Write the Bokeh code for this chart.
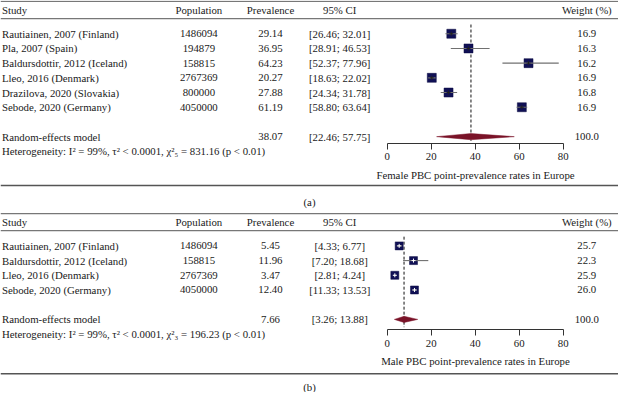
from bokeh.plotting import figure
from bokeh.models import Range1d, LinearAxis, FixedTicker
from bokeh.core.properties import value
from bokeh.embed import file_html
from bokeh.resources import INLINE

# ---------------- data ----------------
headers = ["Study", "Population", "Prevalence", "95% CI", "Weight (%)"]

studies_a = ["Rautiainen, 2007 (Finland)", "Pla, 2007 (Spain)", "Baldursdottir, 2012 (Iceland)",
             "Lleo, 2016 (Denmark)", "Drazilova, 2020 (Slovakia)", "Sebode, 2020 (Germany)"]
pop_a = [1486094, 194879, 158815, 2767369, 800000, 4050000]
prev_a = [29.14, 36.95, 64.23, 20.27, 27.88, 61.19]
lo_a = [26.46, 28.91, 52.37, 18.63, 24.34, 58.80]
hi_a = [32.01, 46.53, 77.96, 22.02, 31.78, 63.64]
w_a = [16.9, 16.3, 16.2, 16.9, 16.8, 16.9]
re_a = [38.07, 22.46, 57.75]
het_a = "Heterogeneity: I\u00b2 = 99%, \u03c4\u00b2 < 0.0001, \u03c7\u00b2\u2085 = 831.16 (p < 0.01)"
xlabel_a = "Female PBC point-prevalence rates in Europe"

studies_b = ["Rautiainen, 2007 (Finland)", "Baldursdottir, 2012 (Iceland)",
             "Lleo, 2016 (Denmark)", "Sebode, 2020 (Germany)"]
pop_b = [1486094, 158815, 2767369, 4050000]
prev_b = [5.45, 11.96, 3.47, 12.40]
lo_b = [4.33, 7.20, 2.81, 11.33]
hi_b = [6.77, 18.68, 4.24, 13.53]
w_b = [25.7, 22.3, 25.9, 26.0]
re_b = [7.66, 3.26, 13.88]
het_b = "Heterogeneity: I\u00b2 = 99%, \u03c4\u00b2 < 0.0001, \u03c7\u00b2\u2083 = 196.23 (p < 0.01)"
xlabel_b = "Male PBC point-prevalence rates in Europe"

ticks_x = [0, 20, 40, 60, 80]
model_label = "Random-effects model"

# ---------------- layout ----------------
W, H = 618, 392
REF_W, REF_H = 634.0, 408.0
X0_REF = 396.7           # reference x of value 0
K = 2.2575               # reference px per unit


def dx(ref_x):
    return (ref_x - X0_REF) / K


XMIN, XMAX = dx(0), dx(REF_W)

FONT = value("Liberation Serif")
FS = "10.8px"
TXT = "#1a1a1a"

p = figure(width=W, height=H, output_backend="svg", toolbar_location=None,
           x_range=Range1d(XMIN, XMAX), y_range=Range1d(REF_H, 0),
           x_axis_location=None, y_axis_location=None,
           min_border=0, min_border_left=0, min_border_right=0,
           min_border_top=0, min_border_bottom=0)
p.outline_line_color = None
p.xgrid.visible = False
p.ygrid.visible = False
p.background_fill_color = "white"
p.border_fill_color = "white"

COL_STUDY = dx(1.5)
COL_POP = dx(203.5)
COL_PREV = dx(277)
COL_CI = dx(348)
COL_W = dx(601.5)


def txt(x, y, t, align="left"):
    p.text(x=x, y=y, text=t, text_font=FONT, text_font_size=FS, text_color=TXT,
           text_align=align, text_baseline="middle")


def panel(top, studies, pop, prev, lo, hi, w, re, het, xlabel, tag, box_size, cross_col,
          dash_bottom, axis_y, bottom_rule, tag_y):
    p.segment(x0=[XMIN, XMIN], y0=[top, top + 17.8], x1=[XMAX, XMAX], y1=[top, top + 17.8],
              line_color="#777777", line_width=1.3)
    p.segment(x0=[XMIN], y0=[bottom_rule], x1=[XMAX], y1=[bottom_rule],
              line_color="#555555", line_width=1.6)
    hy = top + 8.8
    txt([COL_STUDY], [hy], [headers[0]])
    txt([COL_POP], [hy], [headers[1]], "center")
    txt([COL_PREV], [hy], [headers[2]], "center")
    txt([COL_CI], [hy], [headers[3]], "center")
    txt([COL_W], [hy], [headers[4]], "center")

    n = len(studies)
    ys = [top + 33.6 + i * 15.3 for i in range(n)]
    txt([COL_STUDY] * n, ys, studies)
    txt([COL_POP] * n, ys, [str(v) for v in pop], "center")
    txt([COL_PREV] * n, ys, ["%.2f" % v for v in prev], "center")
    txt([COL_CI] * n, ys, ["[%.2f; %.2f]" % (a, b) for a, b in zip(lo, hi)], "center")
    txt([COL_W] * n, ys, ["%.1f" % v for v in w], "center")

    ry = ys[-1] + 30.6
    txt([COL_STUDY], [ry], [model_label])
    txt([COL_PREV], [ry], ["%.2f" % re[0]], "center")
    txt([COL_CI], [ry], ["[%.2f; %.2f]" % (re[1], re[2])], "center")
    txt([COL_W], [ry], ["100.0"], "center")
    txt([COL_STUDY], [ry + 15.4], [het])

    p.segment(x0=[re[0]], y0=[top + 24], x1=[re[0]], y1=[dash_bottom],
              line_color="#111111", line_width=1, line_dash="3 2")
    p.scatter(x=prev, y=ys, marker="square", size=box_size, fill_color="#101055",
              line_color="#0a0a40", line_width=0.5)
    p.segment(x0=lo, y0=ys, x1=hi, y1=ys, line_color="#707070", line_width=1.1)
    p.scatter(x=prev, y=ys, marker="cross", size=4, line_color=cross_col, line_width=1)
    h = 3.2
    p.patch(x=[re[1], re[0], re[2], re[0]], y=[ry, ry - h, ry, ry + h],
            fill_color="#7a1328", line_color="#7a1328", line_width=0.5)

    ax = LinearAxis(fixed_location=axis_y, bounds=(0, 80), ticker=FixedTicker(ticks=ticks_x),
                    axis_label=xlabel)
    ax.axis_line_color = "#333333"
    ax.major_tick_line_color = "#333333"
    ax.major_tick_out = 6
    ax.major_tick_in = 0
    ax.minor_tick_out = 0
    ax.minor_tick_in = 0
    ax.major_label_text_font = "Liberation Serif"
    ax.major_label_text_font_size = FS
    ax.major_label_text_color = TXT
    ax.major_label_standoff = 4
    ax.axis_label_text_font = "Liberation Serif"
    ax.axis_label_text_font_size = FS
    ax.axis_label_text_font_style = "normal"
    ax.axis_label_text_color = TXT
    ax.axis_label_standoff = 5
    p.add_layout(ax, "below")

    txt([dx(317)], [tag_y], [tag], "center")


panel(1.0, studies_a, pop_a, prev_a, lo_a, hi_a, w_a, re_a, het_a, xlabel_a, "(a)",
      9, "#222222", 146, 148.5, 192.5, 209.5)
panel(221.8, studies_b, pop_b, prev_b, lo_b, hi_b, w_b, re_b, het_b, xlabel_b, "(b)",
      8, "#ffffff", 340, 342.5, 388.5, 401.8)

open("out.html", "w").write(file_html(p, INLINE))
